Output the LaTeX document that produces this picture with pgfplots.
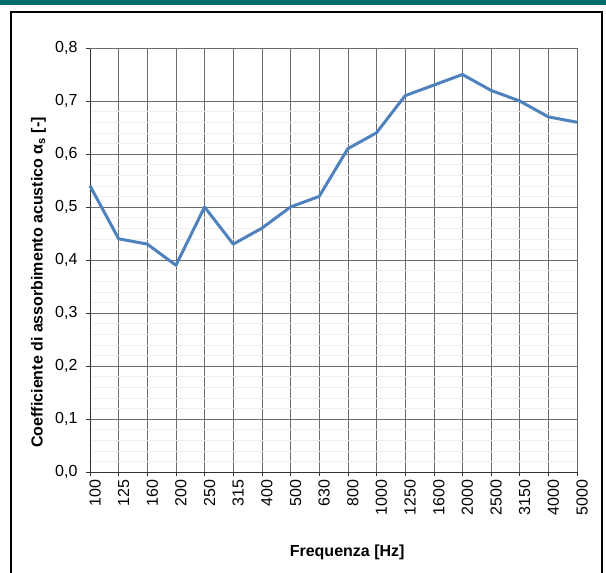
\documentclass[border=0pt]{standalone}
\usepackage{pgfplots}
\pgfplotsset{compat=1.18}
\usepackage{fontspec}
\setmainfont{Liberation Sans}
\definecolor{linecol}{HTML}{4F81BD}
\definecolor{barcol}{HTML}{006B6B}
\begin{document}
\begin{tikzpicture}
\path[use as bounding box] (0,0) rectangle (606bp,573bp);
\fill[barcol] (0,568bp) rectangle (606bp,573bp);
\draw[line width=1.3bp] (11bp,-2bp) -- (11bp,561bp) -- (602bp,561bp) -- (602bp,-2bp);
\begin{axis}[
  at={(90bp,101bp)}, anchor=south west,
  scale only axis, width=487bp, height=424bp,
  xmin=0, xmax=17, ymin=0, ymax=0.8,
  xtick={0,...,17},
  xticklabels={100,125,160,200,250,315,400,500,630,800,1000,1250,1600,2000,2500,3150,4000,5000},
  ytick={0,0.1,0.2,0.3,0.4,0.5,0.6,0.7},
  extra y ticks={0.8},
  extra y tick style={grid style={gray!45, line width=0.8bp}},
  minor y tick num=4,
  grid=both,
  major grid style={gray!85!black, line width=0.5bp},
  minor grid style={gray!12, line width=0.4bp},
  axis x line*=bottom, axis y line*=left,
  axis line style={black!80, line width=0.8bp},
  tick align=outside, major tick length=4bp, minor tick length=0pt,
  tick style={black!80, line width=0.5bp},
  x tick label style={rotate=90, anchor=east, font=\fontsize{16bp}{18bp}\selectfont, yshift=-5bp},
  y tick label style={font=\fontsize{16bp}{18bp}\selectfont, xshift=-5bp},
  /pgf/number format/assume math mode=true,
  /pgf/number format/use comma,
  /pgf/number format/fixed,
  /pgf/number format/fixed zerofill,
  /pgf/number format/precision=1,
  xlabel={Frequenza [Hz]},
  ylabel={Coefficiente di assorbimento acustico α\textsubscript{s} [-]},
  xlabel style={font=\bfseries\fontsize{16bp}{18bp}\selectfont, at={(axis description cs:0.528,-0.189)}, anchor=center},
  ylabel style={font=\bfseries\fontsize{16bp}{18bp}\selectfont, at={(axis description cs:-0.106,0.447)}, anchor=center},
  clip=false,
]
\addplot[linecol, line width=3bp, line join=round] coordinates {
(0,0.54) (1,0.44) (2,0.43) (3,0.39) (4,0.50) (5,0.43) (6,0.46) (7,0.50) (8,0.52)
(9,0.61) (10,0.64) (11,0.71) (12,0.73) (13,0.75) (14,0.72) (15,0.70) (16,0.67) (17,0.66)
};
\end{axis}
\end{tikzpicture}
\end{document}
